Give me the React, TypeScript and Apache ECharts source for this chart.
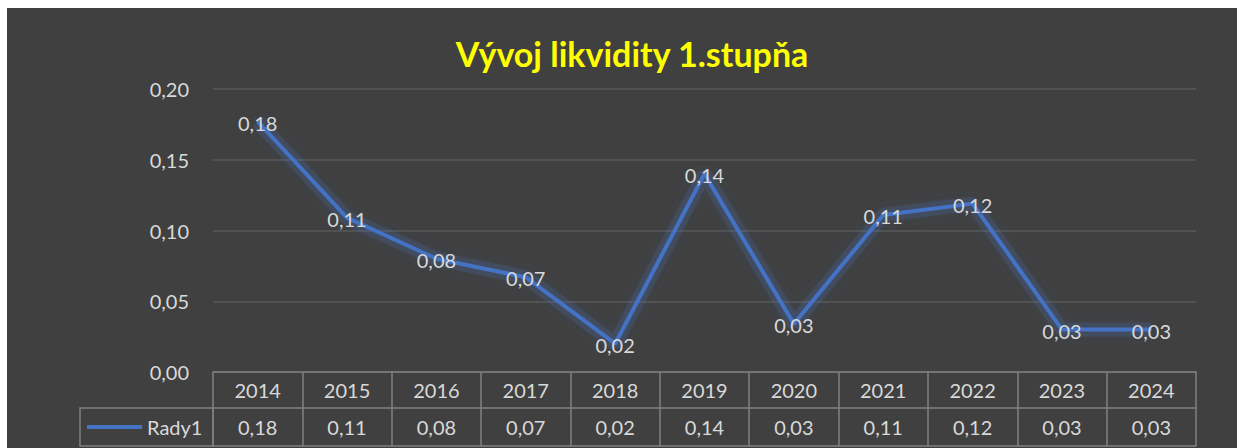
import React, { useEffect, useRef } from "react";
import * as echarts from "echarts";

const years = ["2014", "2015", "2016", "2017", "2018", "2019", "2020", "2021", "2022", "2023", "2024"];
const values = [0.177, 0.109, 0.08, 0.067, 0.02, 0.14, 0.034, 0.111, 0.119, 0.03, 0.03];
const seriesName = "Rady1";
const titleText = "Vývoj likvidity 1.stupňa";

const fmt = (v: number) => v.toFixed(2).replace(".", ",");

const FONT = "Lato, 'Noto Sans', sans-serif";
const TEXT = "#d9d9d9";
const BORDER = "#808080";

export default function App() {
  const ref = useRef<HTMLDivElement>(null);
  useEffect(() => {
    if (!ref.current) return;
    const chart = echarts.init(ref.current, null, { renderer: "svg" });
    chart.setOption({
      animation: false,
      backgroundColor: "#404040",
      textStyle: { fontFamily: FONT },
      title: {
        text: titleText,
        left: 620,
        top: 23,
        textAlign: "center",
        textStyle: { color: "#ffff00", fontSize: 34, fontWeight: "bold", fontFamily: FONT },
      },
      legend: {
        data: [seriesName],
        left: 80,
        top: 409,
        padding: 0,
        icon: "rect",
        itemWidth: 55,
        itemHeight: 4,
        textStyle: { color: TEXT, fontSize: 20, fontFamily: FONT },
      },
      grid: { left: 206, right: 41, top: 81, bottom: 76 },
      xAxis: [
        {
          type: "category",
          data: years,
          position: "bottom",
          axisLine: { show: true, lineStyle: { color: BORDER, width: 1.5 } },
          axisTick: { show: true, length: 74, interval: 0, lineStyle: { color: BORDER, width: 1.5 } },
          axisLabel: { color: TEXT, fontSize: 20, margin: 8, lineHeight: 20, interval: 0, fontFamily: FONT },
        },
        {
          type: "category",
          data: years,
          position: "bottom",
          offset: 36,
          axisLine: { show: true, lineStyle: { color: BORDER, width: 1.5 } },
          axisTick: { show: false },
          axisLabel: {
            color: TEXT,
            fontSize: 20,
            margin: 9,
            lineHeight: 20,
            interval: 0,
            fontFamily: FONT,
            formatter: (_v: string, i: number) => fmt(values[i]),
          },
        },
        {
          type: "category",
          data: years,
          position: "bottom",
          offset: 74,
          axisLine: { show: true, lineStyle: { color: BORDER, width: 1.5 } },
          axisTick: { show: false },
          axisLabel: { show: false },
        },
      ],
      yAxis: {
        type: "value",
        min: 0,
        max: 0.2,
        interval: 0.05,
        axisLine: { show: false },
        axisTick: { show: false },
        splitLine: { lineStyle: { color: "#595959", width: 1.5 } },
        axisLabel: {
          color: TEXT,
          fontSize: 20,
          margin: 24,
          fontFamily: FONT,
          formatter: (v: number) => fmt(v),
        },
      },
      graphic: [
        {
          type: "rect",
          shape: { x: 73, y: 400, width: 133, height: 38 },
          style: { fill: "none", stroke: BORDER, lineWidth: 1.5 },
          silent: true,
        },
      ],
      series: [
        {
          name: "glow",
          type: "line",
          data: values,
          xAxisIndex: 0,
          symbol: "none",
          silent: true,
          lineStyle: {
            color: "rgba(68,114,196,0.2)",
            width: 14,
            shadowColor: "rgba(68,114,196,0.45)",
            shadowBlur: 14,
          },
          z: 2,
        },
        {
          name: seriesName,
          type: "line",
          data: values,
          xAxisIndex: 0,
          symbol: "circle",
          symbolSize: 1,
          showSymbol: true,
          itemStyle: { color: "#4472C4" },
          lineStyle: {
            color: "#4472C4",
            width: 4,
          },
          label: {
            show: true,
            position: "inside",
            offset: [0, 1],
            color: TEXT,
            fontSize: 20,
            fontFamily: FONT,
            formatter: (p: any) => fmt(p.value),
          },
          z: 3,
        },
      ],
    });
    return () => chart.dispose();
  }, []);
  return (
    <div
      ref={ref}
      style={{ position: "fixed", left: 7, top: 8, width: 1230, height: 440 }}
    />
  );
}
